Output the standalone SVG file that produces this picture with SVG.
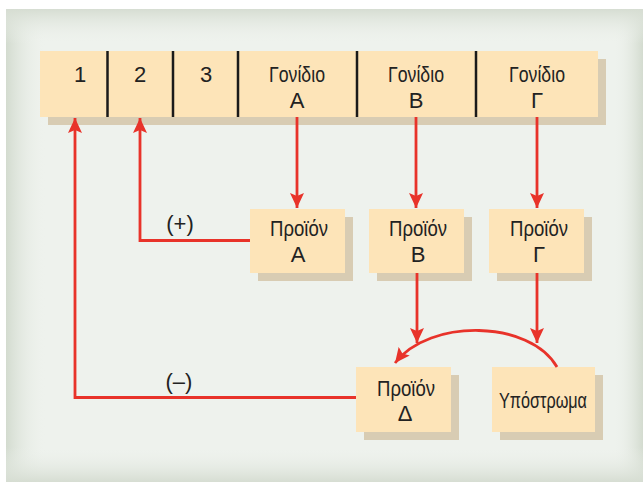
<svg xmlns="http://www.w3.org/2000/svg" width="643" height="485" viewBox="0 0 643 485">
  <defs>
    <style>
      .box { fill: #fde4b8; }
      .shadow { fill: #d8ccb3; }
      .div { stroke: #1a1a1a; stroke-width: 2.5; }
      .wire { fill: none; stroke: #e8332a; stroke-width: 2.8; stroke-linejoin: miter; }
      .lbl { font-family: "Liberation Sans", Arial, sans-serif; font-size: 22px; fill: #222; text-anchor: middle; }
    </style>
    <marker id="arrow" markerUnits="userSpaceOnUse" markerWidth="16" markerHeight="14" refX="15" refY="7" orient="auto">
      <path d="M0,0 L15,7 L0,14 L3,7 Z" fill="#e8332a"/>
    </marker>
    <linearGradient id="edgeL" x1="0" y1="0" x2="1" y2="0">
      <stop offset="0" stop-color="#d3dbcf"/>
      <stop offset="1" stop-color="#eef2ed" stop-opacity="0"/>
    </linearGradient>
    <linearGradient id="edgeR" x1="1" y1="0" x2="0" y2="0">
      <stop offset="0" stop-color="#d3dbcf"/>
      <stop offset="1" stop-color="#eef2ed" stop-opacity="0"/>
    </linearGradient>
    <linearGradient id="edgeT" x1="0" y1="0" x2="0" y2="1">
      <stop offset="0" stop-color="#d6ddd2"/>
      <stop offset="1" stop-color="#eef2ed" stop-opacity="0"/>
    </linearGradient>
    <linearGradient id="edgeB" x1="0" y1="1" x2="0" y2="0">
      <stop offset="0" stop-color="#d6ddd2"/>
      <stop offset="1" stop-color="#eef2ed" stop-opacity="0"/>
    </linearGradient>
  </defs>

  <!-- page and panel -->
  <rect x="0" y="0" width="643" height="485" fill="#ffffff"/>
  <rect x="6" y="9" width="637" height="473" fill="#eef2ed"/>
  <rect x="6" y="9" width="40" height="473" fill="url(#edgeL)"/>
  <rect x="613" y="9" width="30" height="473" fill="url(#edgeR)"/>
  <rect x="6" y="9" width="637" height="35" fill="url(#edgeT)"/>
  <rect x="6" y="447" width="637" height="35" fill="url(#edgeB)"/>

  <!-- chromosome segment with genes -->
  <g id="dna">
    <rect class="shadow" x="48" y="59" width="558" height="66"/>
    <rect class="box" x="40" y="51" width="558" height="66"/>
    <line class="div" x1="107.5" y1="51" x2="107.5" y2="117"/>
    <line class="div" x1="173" y1="51" x2="173" y2="117"/>
    <line class="div" x1="238" y1="51" x2="238" y2="117"/>
    <line class="div" x1="357" y1="51" x2="357" y2="117"/>
    <line class="div" x1="476" y1="51" x2="476" y2="117"/>
    <text class="lbl" x="80" y="82">1</text>
    <text class="lbl" x="140" y="82">2</text>
    <text class="lbl" x="206" y="82">3</text>
    <text class="lbl" x="297" y="82" textLength="56" lengthAdjust="spacingAndGlyphs">Γονίδιο</text>
    <text class="lbl" x="297" y="108">Α</text>
    <text class="lbl" x="416" y="82" textLength="56" lengthAdjust="spacingAndGlyphs">Γονίδιο</text>
    <text class="lbl" x="416" y="108">Β</text>
    <text class="lbl" x="537" y="82" textLength="56" lengthAdjust="spacingAndGlyphs">Γονίδιο</text>
    <text class="lbl" x="537" y="108">Γ</text>
  </g>

  <g id="productA">
    <rect class="shadow" x="258" y="217" width="95" height="64"/>
    <rect class="box" x="250" y="209" width="95" height="64"/>
    <text class="lbl" x="299" y="236" textLength="58" lengthAdjust="spacingAndGlyphs">Προϊόν</text>
    <text class="lbl" x="298" y="262">Α</text>
  </g>

  <g id="productB">
    <rect class="shadow" x="377" y="217" width="95" height="64"/>
    <rect class="box" x="369" y="209" width="95" height="64"/>
    <text class="lbl" x="418" y="236" textLength="58" lengthAdjust="spacingAndGlyphs">Προϊόν</text>
    <text class="lbl" x="418" y="262">Β</text>
  </g>

  <g id="productG">
    <rect class="shadow" x="497" y="217" width="95" height="64"/>
    <rect class="box" x="489" y="209" width="95" height="64"/>
    <text class="lbl" x="539" y="236" textLength="58" lengthAdjust="spacingAndGlyphs">Προϊόν</text>
    <text class="lbl" x="539" y="262">Γ</text>
  </g>

  <g id="productD">
    <rect class="shadow" x="364" y="375" width="95" height="65"/>
    <rect class="box" x="356" y="367" width="95" height="65"/>
    <text class="lbl" x="406" y="396" textLength="58" lengthAdjust="spacingAndGlyphs">Προϊόν</text>
    <text class="lbl" x="405" y="421">Δ</text>
  </g>

  <g id="substrate">
    <rect class="shadow" x="500" y="375" width="103" height="65"/>
    <rect class="box" x="492" y="367" width="103" height="65"/>
    <text class="lbl" x="543" y="408" textLength="88" lengthAdjust="spacingAndGlyphs">Υπόστρωμα</text>
  </g>

  <!-- connectors -->
  <g id="connectors">
    <path class="wire" d="M297,117 V208" marker-end="url(#arrow)"/>
    <path class="wire" d="M416,117 V208" marker-end="url(#arrow)"/>
    <path class="wire" d="M537,117 V208" marker-end="url(#arrow)"/>
    <path class="wire" d="M417,273 V343" marker-end="url(#arrow)"/>
    <path class="wire" d="M537,273 V343" marker-end="url(#arrow)"/>
    <path class="wire" d="M557,367 C530,320 430,318 395,363" marker-end="url(#arrow)"/>
    <path class="wire" d="M250,240.5 H140 V118" marker-end="url(#arrow)"/>
    <path class="wire" d="M356,397.5 H75 V118" marker-end="url(#arrow)"/>
    <text class="lbl" x="180" y="231">(+)</text>
    <text class="lbl" x="179" y="389">(–)</text>
  </g>
</svg>
